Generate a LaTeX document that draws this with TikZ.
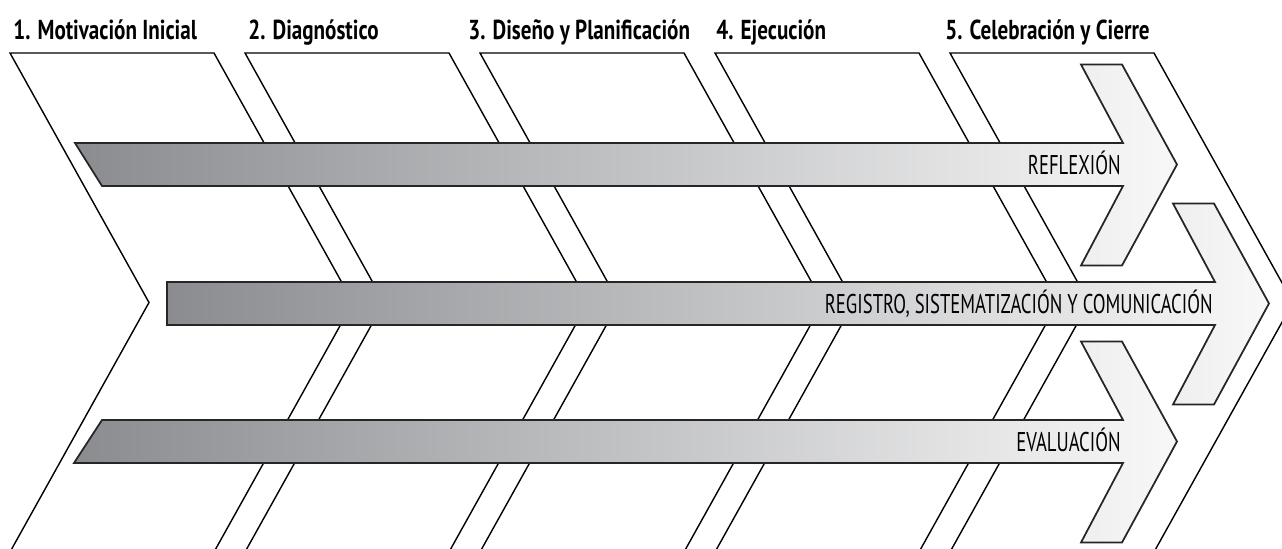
\documentclass[tikz,border=0pt]{standalone}
\usepackage{fontspec}
\setmainfont{PT Sans}
\usepackage{graphicx}
\definecolor{barDark}{RGB}{138,140,144}
\definecolor{barLight}{RGB}{248,248,248}
\newcommand{\narrowtext}[2][0.69]{\scalebox{#1}[1]{#2}}

\begin{document}
\begin{tikzpicture}[x=0.02cm, y=-0.02cm,
  stage/.style={draw=black, line width=0.8pt, line join=miter},
  bararrow/.style={draw=black!85, line width=1pt, left color=barDark, right color=barLight},
  heading/.style={anchor=base west, inner sep=0pt, font=\fontsize{15.6}{18}\selectfont\bfseries},
  barlabel/.style={anchor=base east, inner sep=0pt, font=\fontsize{15.4}{18}\selectfont}]
  \useasboundingbox (0,0) rectangle (1282,548);
  \clip (0,0) rectangle (1282,548);
  % stages
  \foreach \x/\tx/\name/\head in {10/13/mot/{1. Motivación Inicial}, 245/248/diag/{2. Diagnóstico},
      480/468/dis/{3. Diseño y Planificación}, 715/716/eje/{4. Ejecución}, 950/945/cel/{5. Celebración y Cierre}}
  {
    \draw[stage] (\x,53) -- ++(204,0) -- ++(139,249.5) -- ++(-139,249.5) -- ++(-204,0) -- ++(139,-249.5) -- cycle;
    \node[heading] (\name) at (\tx,39.5) {\narrowtext[0.77]{\head}};
  }
  % arrows
  \foreach \tl/\bl/\cy/\hx/\name/\txt in {75/102/164.5/0/refl/{REFLEXIÓN},
      167/167/303.5/92/regi/{REGISTRO, SISTEMATIZACIÓN Y COMUNICACIÓN}, 102/74/441.5/0/eval/{EVALUACIÓN}}
  {
    \draw[bararrow] (\tl,\cy-21.5) -- (1123+\hx,\cy-21.5) -- (1081+\hx,\cy-100) -- (1122+\hx,\cy-100)
      -- (1177+\hx,\cy) -- (1122+\hx,\cy+101) -- (1081+\hx,\cy+101) -- (1123+\hx,\cy+21.5)
      -- (\bl,\cy+21.5) -- cycle;
    \node[barlabel] (\name) at (1121+\hx,\cy+9.5) {\narrowtext{\txt}};
  }
\end{tikzpicture}
\end{document}
